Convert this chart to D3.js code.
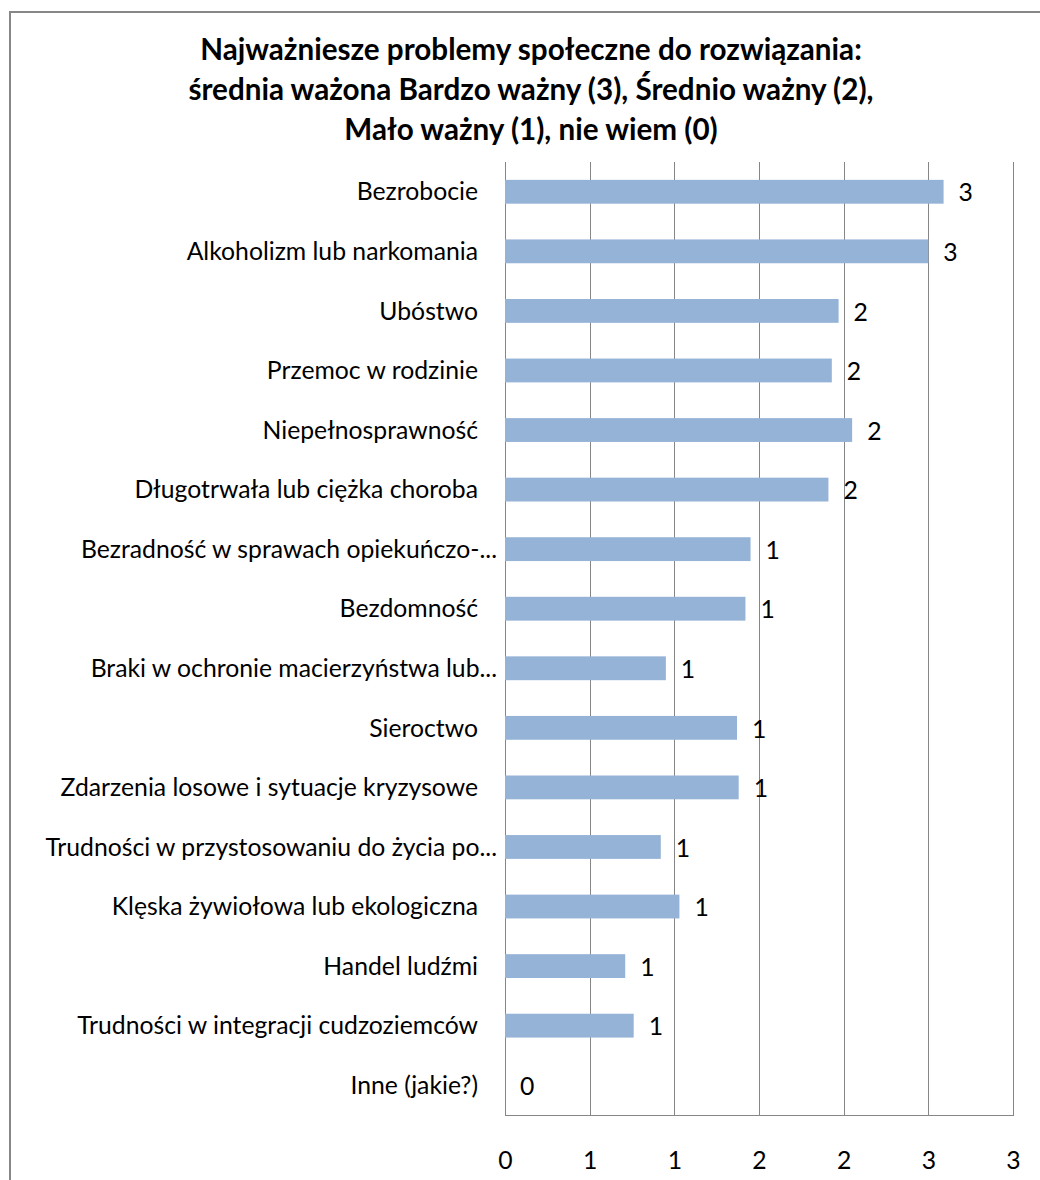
<!DOCTYPE html>
<html>
<head>
<meta charset="utf-8">
<script src="https://cdn.jsdelivr.net/npm/d3@7"></script>
<style>
  html, body { margin: 0; padding: 0; background: #fff; }
  svg { display: block; }
  text { font-family: Lato, "Open Sans", "Liberation Sans", sans-serif; fill: #000; }
</style>
</head>
<body>
<svg id="chart" width="1040" height="1180"></svg>
<script>
// ---- data ----
const titleLines = [
  "Najważniesze problemy społeczne do rozwiązania:",
  "średnia ważona Bardzo ważny (3), Średnio ważny (2),",
  "Mało ważny (1), nie wiem (0)"
];
const categories = [
  "Bezrobocie",
  "Alkoholizm lub narkomania",
  "Ubóstwo",
  "Przemoc w rodzinie",
  "Niepełnosprawność",
  "Długotrwała lub ciężka choroba",
  "Bezradność w sprawach opiekuńczo-...",
  "Bezdomność",
  "Braki w ochronie macierzyństwa lub...",
  "Sieroctwo",
  "Zdarzenia losowe i sytuacje kryzysowe",
  "Trudności w przystosowaniu do życia po...",
  "Klęska żywiołowa lub ekologiczna",
  "Handel ludźmi",
  "Trudności w integracji cudzoziemców",
  "Inne (jakie?)"
];
const values = [2.59, 2.50, 1.97, 1.93, 2.05, 1.91, 1.45, 1.42, 0.95, 1.37, 1.38, 0.92, 1.03, 0.71, 0.76, 0];
const tickValues = [0, 0.5, 1, 1.5, 2, 2.5, 3];
const tickLabels = ["0", "1", "1", "2", "2", "3", "3"];
const valueLabels = ["3", "3", "2", "2", "2", "2", "1", "1", "1", "1", "1", "1", "1", "1", "1", "0"];

// ---- layout ----
const svg = d3.select("#chart");
const plot = { left: 505, right: 1013, top: 162, bottom: 1115 };
const gridColor = "#868686";
const barColor = "#95B3D7";

// outer chart border
svg.append("rect")
  .attr("x", 10).attr("y", 12)
  .attr("width", 1060).attr("height", 1200)
  .attr("fill", "none").attr("stroke", "#878787").attr("stroke-width", 2);

// helper: font size so that a reference string has a target width
function fitSize(str, targetWidth, weight) {
  const t = svg.append("text").attr("font-size", 20).attr("font-weight", weight).text(str);
  const w = t.node().getComputedTextLength();
  t.remove();
  return 20 * targetWidth / w;
}

const x = d3.scaleLinear().domain([0, 3]).range([plot.left, plot.right]);
const y = d3.scaleBand().domain(categories).range([plot.top, plot.bottom])
  .paddingInner(0.6).paddingOuter(0.3);

// title
const titleSize = fitSize(titleLines[0], 662, "bold");
svg.append("g").selectAll("text").data(titleLines).join("text")
  .attr("x", 531)
  .attr("y", (d, i) => 60 + i * 40)
  .attr("text-anchor", "middle")
  .attr("font-weight", "bold")
  .attr("font-size", titleSize)
  .text(d => d);

// gridlines
svg.append("g").selectAll("line").data(tickValues).join("line")
  .attr("x1", d => Math.round(x(d)) + 0.5).attr("x2", d => Math.round(x(d)) + 0.5)
  .attr("y1", plot.top).attr("y2", plot.bottom)
  .attr("stroke", gridColor).attr("stroke-width", 1);

// bottom axis line
svg.append("line")
  .attr("x1", plot.left).attr("x2", plot.right + 1)
  .attr("y1", plot.bottom + 0.5).attr("y2", plot.bottom + 0.5)
  .attr("stroke", gridColor).attr("stroke-width", 1);

// bars
svg.append("g").selectAll("rect").data(values).join("rect")
  .attr("x", x(0))
  .attr("y", (d, i) => y(categories[i]))
  .attr("width", d => x(d) - x(0))
  .attr("height", y.bandwidth())
  .attr("fill", barColor);

// category labels
const labelSize = fitSize("Trudności w integracji cudzoziemców", 401, "normal");
svg.append("g").selectAll("text").data(categories).join("text")
  .attr("x", d => d.endsWith("...") ? 497 : 478)
  .attr("y", d => y(d) + y.bandwidth() / 2)
  .attr("dy", "0.35em")
  .attr("text-anchor", "end")
  .attr("font-size", labelSize)
  .text(d => d);

// value labels
svg.append("g").selectAll("text").data(values).join("text")
  .attr("x", d => x(d) + 15)
  .attr("y", (d, i) => y(categories[i]) + y.bandwidth() / 2 + 1)
  .attr("dy", "0.35em")
  .attr("font-size", labelSize)
  .text((d, i) => valueLabels[i]);

// x axis tick labels
const xAxis = d3.axisBottom(x)
  .tickValues(tickValues)
  .tickSize(0)
  .tickPadding(0)
  .tickFormat((d, i) => tickLabels[i]);
const axisG = svg.append("g").attr("transform", `translate(0, 1150)`).call(xAxis);
axisG.select(".domain").remove();
axisG.selectAll("text")
  .attr("font-size", labelSize)
  .attr("font-family", 'Lato, "Open Sans", sans-serif')
  .attr("fill", "#000")
  .attr("dy", "0.75em")
  .attr("y", 0);
</script>
</body>
</html>
